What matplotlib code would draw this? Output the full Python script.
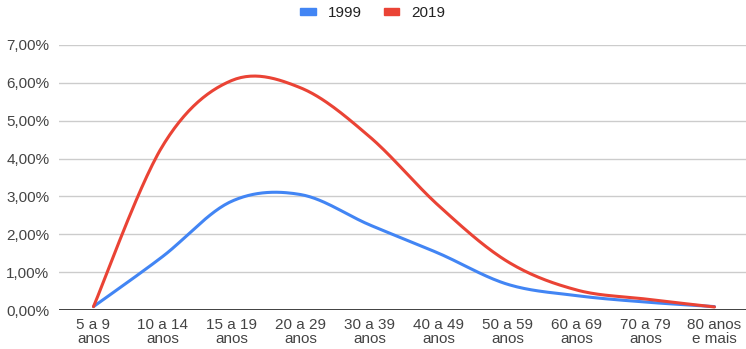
import numpy as np
import matplotlib

matplotlib.use("Agg")
import matplotlib.pyplot as plt
from matplotlib.patches import Patch
from matplotlib.ticker import FuncFormatter

# age groups and share of population (%) per survey year
faixas = ["5 a 9\nanos", "10 a 14\nanos", "15 a 19\nanos", "20 a 29\nanos", "30 a 39\nanos",
          "40 a 49\nanos", "50 a 59\nanos", "60 a 69\nanos", "70 a 79\nanos", "80 anos\ne mais"]
v1999 = [0.09, 1.41, 2.87, 3.05, 2.25, 1.50, 0.68, 0.38, 0.21, 0.09]
v2019 = [0.09, 4.33, 6.06, 5.87, 4.58, 2.76, 1.28, 0.53, 0.29, 0.08]

BLUE = "#4285F4"
RED = "#EA4335"

plt.rcParams["font.family"] = ["Liberation Sans", "DejaVu Sans"]


def smooth(x, y, n=30):
    """Catmull-Rom curve through the points (drawing only)."""
    x = np.asarray(x, float)
    y = np.asarray(y, float)
    px = np.concatenate([[x[0]], x, [x[-1]]])
    py = np.concatenate([[y[0]], y, [y[-1]]])
    xs, ys = [], []
    t = np.linspace(0, 1, n)
    for i in range(1, len(px) - 2):
        for p, out in ((px, xs), (py, ys)):
            p0, p1, p2, p3 = p[i - 1], p[i], p[i + 1], p[i + 2]
            m1 = (p2 - p0) / 2
            m2 = (p3 - p1) / 2
            h00 = 2 * t**3 - 3 * t**2 + 1
            h10 = t**3 - 2 * t**2 + t
            h01 = -2 * t**3 + 3 * t**2
            h11 = t**3 - t**2
            out.extend(h00 * p1 + h10 * m1 + h01 * p2 + h11 * m2)
    return np.array(xs), np.array(ys)


fig = plt.figure(figsize=(7.46, 3.49), dpi=100)
ax = fig.add_axes([59 / 746, 39 / 349, 687 / 746, 265 / 349])

xi = np.arange(len(faixas))
for vals, col in ((v1999, BLUE), (v2019, RED)):
    sx, sy = smooth(xi, vals)
    ax.plot(sx, sy, color=col, lw=2.2, solid_capstyle="round", zorder=3)

ax.set_xlim(-0.5, 9.457)
ax.set_ylim(0, 7)
ax.set_yticks(np.arange(0, 8, 1))
ax.yaxis.set_major_formatter(FuncFormatter(lambda v, _: f"{v:.2f}%".replace(".", ",")))
ax.set_xticks(xi)
ax.set_xticklabels(faixas, linespacing=1.0)
ax.tick_params(axis="both", length=0, labelsize=11, colors="#444444")
ax.tick_params(axis="y", pad=7)
ax.tick_params(axis="x", pad=6)
ax.grid(axis="y", color="#cccccc", lw=1, zorder=0)
for s in ax.spines.values():
    s.set_visible(False)
ax.axhline(0, color="#333333", lw=1.3, zorder=2)

handles = [Patch(color=BLUE, label="1999"), Patch(color=RED, label="2019")]
fig.legend(handles=handles, loc="center", bbox_to_anchor=(0.5, 1 - 13 / 349), ncol=2, frameon=False,
           fontsize=11, handlelength=1.0, handleheight=0.4, handletextpad=0.8, columnspacing=1.45,
           labelcolor="#222222")

fig.savefig("out.png", dpi=100)
